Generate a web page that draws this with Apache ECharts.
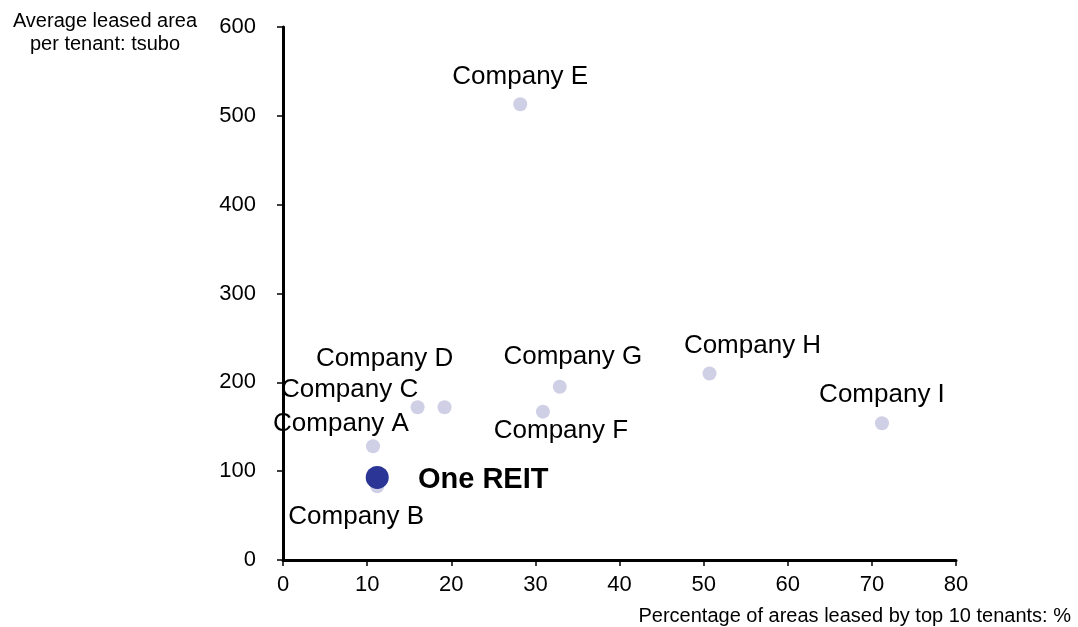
<!DOCTYPE html>
<html>
<head>
<meta charset="utf-8">
<script src="https://cdn.jsdelivr.net/npm/echarts@6/dist/echarts.min.js"></script>
<style>
  html, body { margin: 0; padding: 0; background: #fff; }
  #chart { width: 1078px; height: 627px; }
</style>
</head>
<body>
<div id="chart"></div>
<script>
// Peer companies: share of area leased by top 10 tenants (%) vs average leased area per tenant (tsubo)
const companies = ['Company A', 'Company B', 'Company C', 'Company D', 'Company E',
                   'Company F', 'Company G', 'Company H', 'Company I'];
const topTenShare = [10.7, 11.2, 16.0, 19.2, 28.2, 30.9, 32.9, 50.7, 71.2];
const avgArea     = [128, 83, 172, 172, 513, 167, 195, 210, 154];

const reitName = 'One REIT';
const reitShare = [11.2];
const reitArea  = [93];

const xTicks = [0, 10, 20, 30, 40, 50, 60, 70, 80];
const yTicks = [0, 100, 200, 300, 400, 500, 600];

// label placement for each company name, relative to its marker
const labelOffsets = {
  'Company A': [-32, -22], 'Company B': [-21, 31], 'Company C': [-68, -17],
  'Company D': [-60, -48], 'Company E': [0, -27],  'Company F': [18, 19],
  'Company G': [13, -30],  'Company H': [43, -28], 'Company I': [0, -28]
};

const font = 'Arial, "Liberation Sans", Helvetica, sans-serif';

const peerData = companies.map((name, i) => ({
  name,
  value: [topTenShare[i], avgArea[i]],
  label: { offset: labelOffsets[name] }
}));

const chart = echarts.init(document.getElementById('chart'), null, { renderer: 'canvas' });
chart.setOption({
  animation: false,
  backgroundColor: '#ffffff',
  grid: { left: 283, right: 122, top: 27, bottom: 67 },
  xAxis: {
    type: 'value',
    min: xTicks[0], max: xTicks[xTicks.length - 1], interval: 10,
    axisLine: { show: true, lineStyle: { color: '#000', width: 3 } },
    axisTick: { show: true, length: 6, lineStyle: { color: '#000', width: 1.5 } },
    axisLabel: { color: '#000', fontSize: 22, fontFamily: font, margin: 14 },
    splitLine: { show: false }
  },
  yAxis: {
    type: 'value',
    min: yTicks[0], max: yTicks[yTicks.length - 1], interval: 100,
    axisLine: { show: true, lineStyle: { color: '#000', width: 3 } },
    axisTick: { show: true, length: 6, lineStyle: { color: '#000', width: 1.5 } },
    axisLabel: { color: '#000', fontSize: 22, fontFamily: font, margin: 27 },
    splitLine: { show: false }
  },
  graphic: [
    {
      // y-axis title, two lines above the value labels
      type: 'text', x: 105, y: 33,
      style: {
        text: 'Average leased area\nper tenant: tsubo',
        align: 'center', verticalAlign: 'middle',
        font: '20px ' + font, fill: '#000', lineHeight: 23
      }
    },
    {
      // x-axis title, right-aligned under the axis
      type: 'text', x: 1071, y: 616,
      style: {
        text: 'Percentage of areas leased by top 10 tenants: %',
        align: 'right', verticalAlign: 'middle',
        font: '20px ' + font, fill: '#000'
      }
    }
  ],
  series: [
    {
      type: 'scatter',
      data: peerData,
      symbolSize: 14,
      itemStyle: { color: '#cfcfe6', opacity: 1 },
      label: {
        show: true,
        position: 'inside',
        formatter: p => p.name,
        color: '#000',
        fontSize: 26,
        fontFamily: font
      },
      z: 2
    },
    {
      type: 'scatter',
      data: reitShare.map((x, i) => ({ name: reitName, value: [x, reitArea[i]] })),
      symbolSize: 23,
      itemStyle: { color: '#2a3596', opacity: 1 },
      label: {
        show: true,
        position: 'inside',
        offset: [106, 3],
        formatter: p => p.name,
        color: '#000',
        fontSize: 29,
        fontWeight: 'bold',
        fontFamily: font
      },
      z: 3
    }
  ]
});
</script>
</body>
</html>
